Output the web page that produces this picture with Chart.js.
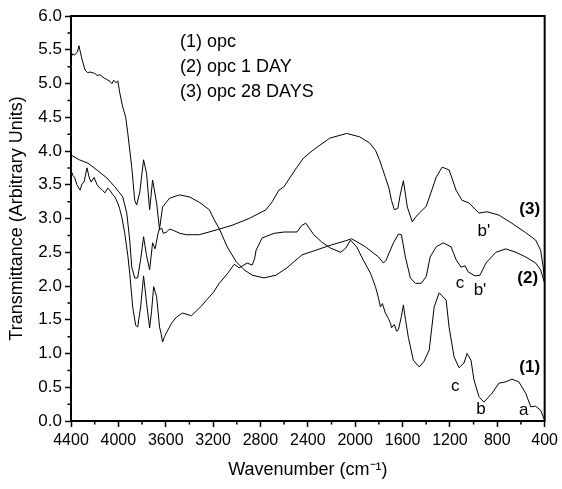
<!DOCTYPE html>
<html>
<head>
<meta charset="utf-8">
<script src="https://cdn.jsdelivr.net/npm/chart.js@4.4.1/dist/chart.umd.min.js"></script>
<style>
    html, body { margin: 0; padding: 0; background: #fff; }
    #wrap { width: 562px; height: 489px; }
</style>
</head>
<body>
<div id="wrap"><canvas id="ftirChart" width="562" height="489"></canvas></div>
<script>
const FONT = '"Liberation Sans", Arial, Helvetica, sans-serif';

// Curve (1) opc - wavenumber (cm-1) and transmittance
const opcWn = [4400, 4385, 4370, 4350, 4324, 4305, 4290, 4265, 4245, 4230, 4205, 4180, 4156, 4135, 4114, 4090, 4072, 4050, 4030, 4005,
    3990, 3971, 3946, 3920, 3904, 3879, 3854, 3837, 3812, 3787, 3762, 3736, 3720, 3702, 3690, 3677, 3652, 3640, 3627, 3610,
    3590, 3550, 3509, 3459, 3420, 3383, 3300, 3257, 3200, 3148, 3080, 3022, 2980, 2912, 2870, 2850, 2837, 2787, 2686, 2600,
    2492, 2450, 2417, 2350, 2282, 2207, 2123, 2080, 2039, 1988, 1930, 1871, 1829, 1803, 1787, 1770, 1745, 1720, 1700, 1694,
    1670, 1650, 1635, 1610, 1593, 1575, 1551, 1509, 1459, 1420, 1375, 1333, 1291, 1232, 1207, 1165, 1123, 1081, 1055, 1022,
    997, 955, 913, 845, 786, 728, 677, 618, 560, 517, 476, 434, 400];
const opcT = [3.72, 3.64, 3.61, 3.50, 3.42, 3.52, 3.54, 3.75, 3.60, 3.54, 3.61, 3.50, 3.45, 3.42, 3.38, 3.45, 3.42, 3.36, 3.32, 3.23,
    3.15, 3.02, 2.78, 2.45, 2.19, 1.69, 1.42, 1.39, 1.69, 2.15, 1.75, 1.38, 1.62, 1.99, 1.92, 1.84, 1.39, 1.30, 1.17, 1.25,
    1.32, 1.45, 1.54, 1.60, 1.58, 1.56, 1.70, 1.79, 1.90, 2.04, 2.18, 2.32, 2.27, 2.34, 2.31, 2.40, 2.53, 2.71, 2.78, 2.80,
    2.80, 2.90, 2.93, 2.76, 2.65, 2.56, 2.50, 2.56, 2.68, 2.58, 2.38, 2.19, 1.99, 1.82, 1.69, 1.74, 1.60, 1.52, 1.44, 1.38,
    1.43, 1.33, 1.35, 1.55, 1.72, 1.50, 1.24, 0.90, 0.80, 0.88, 1.05, 1.69, 1.90, 1.79, 1.39, 0.95, 0.79, 0.86, 1.00, 0.90,
    0.61, 0.36, 0.28, 0.41, 0.56, 0.58, 0.62, 0.58, 0.41, 0.21, 0.22, 0.16, 0.01];

// Curve (2) opc 1 DAY
const day1Wn = [4400, 4330, 4257, 4182, 4097, 4030, 3963, 3929, 3904, 3887, 3862, 3837, 3812, 3787, 3762, 3736, 3711, 3690, 3665, 3652,
    3627, 3568, 3484, 3400, 3316, 3232, 3190, 3148, 3081, 3005, 2938, 2870, 2770, 2669, 2576, 2450, 2333, 2198, 2081, 2030,
    1913, 1803, 1762, 1740, 1677, 1635, 1610, 1576, 1534, 1492, 1442, 1400, 1367, 1316, 1257, 1190, 1148, 1106, 1072, 1047,
    988, 946, 896, 812, 728, 644, 560, 476, 434, 400];
const day1T = [3.94, 3.87, 3.82, 3.72, 3.60, 3.47, 3.32, 3.08, 2.68, 2.28, 2.12, 2.12, 2.39, 2.73, 2.45, 2.24, 2.64, 2.55, 2.78, 2.85,
    3.17, 3.30, 3.35, 3.32, 3.24, 3.13, 2.98, 2.85, 2.58, 2.36, 2.24, 2.16, 2.12, 2.16, 2.27, 2.46, 2.53, 2.61, 2.67, 2.70,
    2.58, 2.43, 2.34, 2.38, 2.64, 2.77, 2.76, 2.43, 2.12, 2.04, 2.04, 2.14, 2.43, 2.58, 2.64, 2.58, 2.39, 2.28, 2.30, 2.21,
    2.15, 2.16, 2.34, 2.50, 2.55, 2.50, 2.43, 2.34, 2.24, 2.04];

// Curve (3) opc 28 DAYS
const day28Wn = [4400, 4385, 4370, 4345, 4333, 4310, 4282, 4260, 4240, 4200, 4180, 4156, 4120, 4097, 4070, 4055, 4040, 4020, 4005, 3988,
    3963, 3938, 3921, 3887, 3862, 3846, 3820, 3787, 3762, 3736, 3711, 3677, 3652, 3635, 3620, 3593, 3570, 3543, 3480, 3425,
    3316, 3173, 3039, 2896, 2753, 2700, 2644, 2602, 2492, 2434, 2358, 2215, 2072, 1963, 1879, 1829, 1795, 1745, 1715, 1694,
    1669, 1640, 1620, 1593, 1575, 1560, 1518, 1490, 1459, 1400, 1316, 1266, 1207, 1148, 1098, 1039, 955, 887, 786, 677,
    560, 476, 434, 412, 400];
const day28T = [5.39, 5.44, 5.42, 5.47, 5.56, 5.38, 5.20, 5.16, 5.17, 5.15, 5.12, 5.13, 5.08, 5.06, 5.03, 5.00, 5.05, 5.01, 5.04, 4.86,
    4.65, 4.50, 4.27, 3.76, 3.27, 3.20, 3.38, 3.87, 3.67, 3.13, 3.57, 3.23, 2.83, 2.86, 2.78, 2.80, 2.84, 2.83, 2.78, 2.76,
    2.76, 2.83, 2.90, 3.00, 3.13, 3.25, 3.42, 3.47, 3.76, 3.90, 4.01, 4.19, 4.26, 4.21, 4.12, 4.01, 3.87, 3.61, 3.45, 3.27,
    3.13, 3.15, 3.35, 3.56, 3.35, 3.17, 2.95, 3.02, 3.08, 3.18, 3.61, 3.76, 3.72, 3.42, 3.27, 3.23, 3.08, 3.10, 3.05, 2.93,
    2.79, 2.68, 2.53, 2.28, 2.04];

const seriesNames = ['(1) opc', '(2) opc 1 DAY', '(3) opc 28 DAYS'];

// band letters and curve numbers, anchored in data units
const bandLabels = [
    { text: '(3)', wn: 526, t: 3.13, bold: true },
    { text: "b'", wn: 913, t: 2.81 },
    { text: 'c', wn: 1114, t: 2.04 },
    { text: "b'", wn: 946, t: 1.94 },
    { text: '(2)', wn: 543, t: 2.12, bold: true },
    { text: '(1)', wn: 526, t: 0.79, bold: true },
    { text: 'c', wn: 1156, t: 0.52 },
    { text: 'b', wn: 938, t: 0.18 },
    { text: 'a', wn: 576, t: 0.16 }
];

function toPoints(wn, t) {
    return wn.map((w, i) => ({ x: w, y: t[i] }));
}

const spectra = [[opcWn, opcT], [day1Wn, day1T], [day28Wn, day28T]];

// frame, minor ticks, in-plot legend text and band labels
const decorPlugin = {
    id: 'decor',
    afterDatasetsDraw(chart) {
        const { ctx, chartArea: a, scales: { x, y } } = chart;
        ctx.save();
        ctx.strokeStyle = '#000';
        ctx.lineWidth = 2;
        ctx.strokeRect(a.left, a.top, a.right - a.left, a.bottom - a.top);

        ctx.lineWidth = 1.5;
        ctx.beginPath();
        for (let v = 600; v < 4400; v += 400) {
            const px = x.getPixelForValue(v);
            ctx.moveTo(px, a.bottom);
            ctx.lineTo(px, a.bottom + 3.5);
        }
        for (let v = 0.25; v < 6; v += 0.5) {
            const py = y.getPixelForValue(v);
            ctx.moveTo(a.left, py);
            ctx.lineTo(a.left - 3.5, py);
        }
        ctx.stroke();

        ctx.fillStyle = '#000';
        ctx.textBaseline = 'middle';
        ctx.textAlign = 'left';
        ctx.font = '18px ' + FONT;
        seriesNames.forEach((name, i) => {
            ctx.fillText(name, a.left + 109, a.top + 26 + i * 25);
        });

        ctx.textAlign = 'center';
        bandLabels.forEach(l => {
            ctx.font = (l.bold ? 'bold ' : '') + '17px ' + FONT;
            ctx.fillText(l.text, x.getPixelForValue(l.wn), y.getPixelForValue(l.t));
        });
        ctx.restore();
    }
};

const ctx = document.getElementById('ftirChart').getContext('2d');

new Chart(ctx, {
    type: 'line',
    data: {
        datasets: spectra.map((s, i) => ({
            label: seriesNames[i],
            data: toPoints(s[0], s[1]),
            borderColor: '#000',
            borderWidth: 1,
            pointRadius: 0,
            tension: 0,
            fill: false
        }))
    },
    options: {
        responsive: false,
        devicePixelRatio: 1,
        animation: false,
        events: [],
        layout: { padding: { top: 16, right: 15, left: 0, bottom: 0 } },
        plugins: {
            legend: { display: false },
            tooltip: { enabled: false }
        },
        scales: {
            x: {
                type: 'linear',
                reverse: true,
                min: 400,
                max: 4400,
                afterFit: scale => { scale.height = 68; },
                border: { display: true, color: '#000', width: 2 },
                grid: { drawOnChartArea: false, drawTicks: true, tickLength: 6, tickWidth: 1.5, tickColor: '#000' },
                ticks: {
                    stepSize: 400,
                    autoSkip: false,
                    maxRotation: 0,
                    padding: 4,
                    color: '#000',
                    font: { family: FONT, size: 16 },
                    callback: v => String(v)
                },
                title: {
                    display: true,
                    text: 'Wavenumber (cm\u207B\u00B9)',
                    color: '#000',
                    font: { family: FONT, size: 18 },
                    padding: { top: 0, bottom: 8 }
                }
            },
            y: {
                min: 0,
                max: 6,
                afterFit: scale => { scale.width = 71; },
                border: { display: true, color: '#000', width: 2 },
                grid: { drawOnChartArea: false, drawTicks: true, tickLength: 6, tickWidth: 1.5, tickColor: '#000' },
                ticks: {
                    stepSize: 0.5,
                    padding: 3,
                    color: '#000',
                    font: { family: FONT, size: 17 },
                    callback: v => v.toFixed(1)
                },
                title: {
                    display: true,
                    text: 'Transmittance (Arbitrary Units)',
                    color: '#000',
                    font: { family: FONT, size: 18 },
                    padding: { top: 6, bottom: 0 }
                }
            }
        }
    },
    plugins: [decorPlugin]
});
</script>
</body>
</html>
